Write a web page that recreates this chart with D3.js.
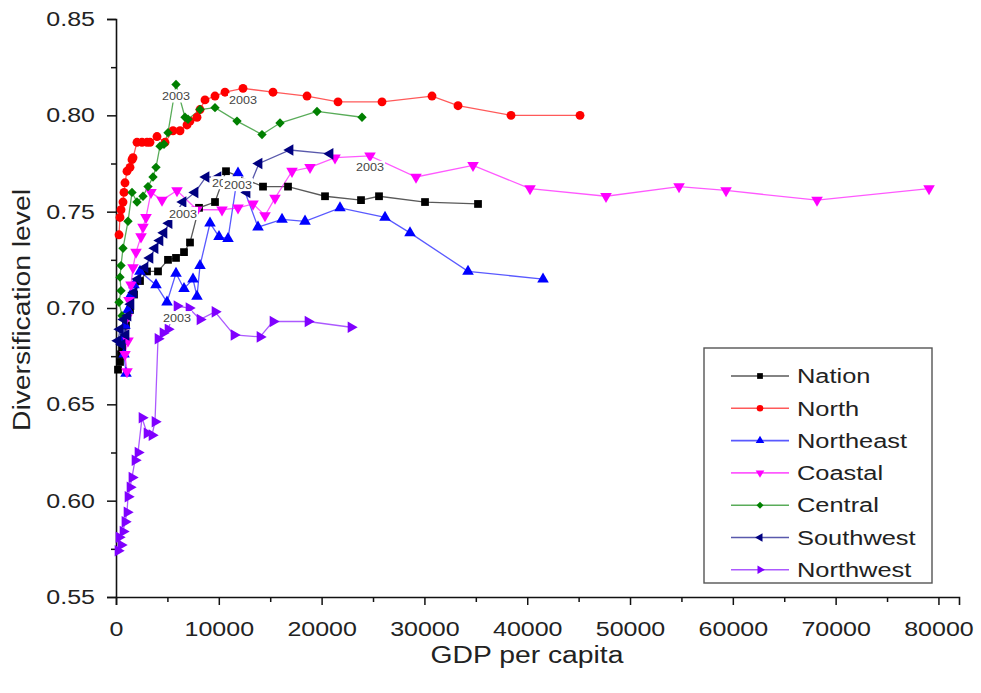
<!DOCTYPE html>
<html>
<head>
<meta charset="utf-8">
<script src="https://cdn.jsdelivr.net/npm/d3@7"></script>
<style>
  html, body { margin: 0; padding: 0; background: #fff; }
  svg { display: block; }
  text { font-family: Arial, "Liberation Sans", sans-serif; }
</style>
</head>
<body>
<svg id="chart" width="981" height="693"></svg>
<script>
// GDP per capita vs. diversification level, one series per region.
const seriesNames = ["Nation", "North", "Northeast", "Coastal", "Central", "Southwest", "Northwest"];
const seriesColors = ["#000000", "#ff0000", "#0000ff", "#ff00ff", "#008000", "#000080", "#8000ff"];

const nation = [[195,0.668],[389,0.672],[486,0.676],[584,0.679],[681,0.683],[973,0.691],[1362,0.699],[1751,0.707],
  [2335,0.714],[3016,0.719],[4086,0.719],[5058,0.725],[5837,0.726],[6615,0.729],[7198,0.734],[8074,0.752],[9630,0.755],
  [10700,0.771],[14300,0.763],[16732,0.763],[20331,0.758],[23833,0.756],[25584,0.758],[30058,0.755],[35214,0.754]];
const north = [[292,0.738],[389,0.747],[486,0.751],[681,0.755],[778,0.760],[875,0.765],[1070,0.771],[1362,0.773],
  [1556,0.777],[1654,0.778],[2043,0.786],[2529,0.786],[3016,0.786],[3307,0.786],[3988,0.789],[4767,0.786],[5545,0.792],
  [6226,0.792],[6907,0.795],[7198,0.797],[7879,0.799],[8171,0.803],[8658,0.808],[9630,0.810],[10603,0.812],[12354,0.814],
  [15272,0.812],[18580,0.810],[21595,0.807],[25875,0.807],[30739,0.810],[33268,0.805],[38424,0.800],[45136,0.800]];
const northeast = [[973,0.666],[778,0.676],[584,0.683],[875,0.691],[1167,0.699],[1459,0.707],[1751,0.712],[2335,0.719],
  [3891,0.712],[4961,0.703],[5837,0.718],[6615,0.710],[7490,0.715],[7879,0.706],[8171,0.722],[9144,0.744],[10019,0.737],
  [10895,0.736],[11868,0.770],[13813,0.742],[16148,0.746],[18385,0.745],[21790,0.752],[26167,0.747],[28599,0.739],
  [34241,0.719],[41537,0.715]];
const coastal = [[1070,0.667],[875,0.676],[1167,0.683],[1070,0.695],[1265,0.704],[1459,0.712],[1654,0.721],[1946,0.729],
  [2432,0.737],[2626,0.742],[2918,0.747],[3405,0.760],[4475,0.756],[5934,0.761],[7879,0.751],[10311,0.751],[11868,0.752],
  [13327,0.754],[14494,0.748],[15467,0.757],[17121,0.771],[18872,0.773],[21304,0.778],[24708,0.779],[29183,0.768],
  [34728,0.774],[40272,0.762],[47665,0.758],[54767,0.763],[59339,0.761],[68191,0.756],[79086,0.762]];
const central = [[584,0.696],[292,0.703],[486,0.709],[389,0.716],[486,0.722],[681,0.731],[1167,0.745],[1556,0.760],
  [2043,0.755],[2626,0.758],[3113,0.763],[3599,0.768],[3891,0.773],[4280,0.784],[4669,0.785],[5058,0.791],[5837,0.816],
  [6712,0.799],[7004,0.798],[8171,0.803],[9630,0.804],[11770,0.797],[14202,0.790],[15953,0.796],[19553,0.802],[23930,0.799]];
const southwest = [[195,0.683],[389,0.689],[584,0.681],[778,0.694],[973,0.686],[1167,0.696],[1459,0.702],[1751,0.708],
  [2140,0.715],[2821,0.721],[3307,0.726],[3794,0.731],[4280,0.735],[4669,0.739],[5156,0.744],[6518,0.755],[7685,0.760],
  [8755,0.768],[9922,0.768],[11284,0.766],[12743,0.760],[13911,0.775],[16926,0.782],[20817,0.780]];
const northwest = [[195,0.574],[486,0.577],[292,0.581],[681,0.584],[875,0.589],[1070,0.594],[1167,0.602],[1362,0.607],
  [1556,0.612],[1848,0.621],[2140,0.625],[2529,0.643],[3016,0.635],[3502,0.634],[3794,0.641],[4086,0.684],[4572,0.687],
  [5058,0.689],[5934,0.701],[7101,0.700],[8171,0.694],[9630,0.698],[11479,0.686],[14008,0.685],[15272,0.693],
  [18677,0.693],[22860,0.690]];

const seriesData = [nation, north, northeast, coastal, central, southwest, northwest];
// Index of the point marked with the year label in each series
const yearLabel = "2003";
const yearIndex = [17, 25, 18, 23, 16, 15, 18];

const xTicks = [0, 10000, 20000, 30000, 40000, 50000, 60000, 70000, 80000];
const xMinorTicks = [5000, 15000, 25000, 35000, 45000, 55000, 65000, 75000];
const yTicks = [0.55, 0.60, 0.65, 0.70, 0.75, 0.80, 0.85];
const yMinorTicks = [0.575, 0.625, 0.675, 0.725, 0.775, 0.825];

// the chart's typeface is set a bit wide: glyphs are stretched along the text direction
const WIDE = 1.25;

const svg = d3.select("#chart");
const x = d3.scaleLinear().domain([0, 82000]).range([116, 959]);
const y = d3.scaleLinear().domain([0.55, 0.85]).range([597, 19]);

// marker shapes: square, circle, up, down, diamond, left, right
const shapes = [
  {type: d3.symbolSquare, size: 60, rot: 0},
  {type: d3.symbolCircle, size: 62, rot: 0},
  {type: d3.symbolTriangle, size: 58, rot: 0},
  {type: d3.symbolTriangle, size: 58, rot: 180},
  {type: d3.symbolSquare, size: 44, rot: 45},
  {type: d3.symbolTriangle, size: 58, rot: -90},
  {type: d3.symbolTriangle, size: 58, rot: 90}
];

// Axes
const axisG = svg.append("g");
const yAxis = axisG.append("g").attr("transform", `translate(${x(0)},0)`)
  .call(d3.axisLeft(y).tickValues(yTicks).tickFormat(d3.format(".2f")).tickSize(9).tickPadding(12));
const yMinor = axisG.append("g").attr("transform", `translate(${x(0)},0)`)
  .call(d3.axisLeft(y).tickValues(yMinorTicks).tickFormat("").tickSize(5));
const xAxis = axisG.append("g").attr("transform", `translate(0,${y(0.55)})`)
  .call(d3.axisBottom(x).tickValues(xTicks).tickFormat(d3.format("d")).tickSize(8).tickPadding(17));
const xMinor = axisG.append("g").attr("transform", `translate(0,${y(0.55)})`)
  .call(d3.axisBottom(x).tickValues(xMinorTicks).tickFormat("").tickSize(5));
[yMinor, xMinor].forEach(g => g.select(".domain").remove());
axisG.selectAll(".domain").attr("stroke", "#111").attr("stroke-width", 1.6);
axisG.selectAll(".tick line").attr("stroke", "#111").attr("stroke-width", 1.5);
yAxis.selectAll(".tick text").attr("font-size", 20).attr("fill", "#222")
  .attr("x", -(9 + 12) / WIDE).attr("transform", `scale(${WIDE},1)`);
xAxis.selectAll(".tick text").attr("font-size", 20).attr("fill", "#222")
  .attr("transform", `scale(${WIDE},1)`);

// Axis titles
svg.append("text")
  .attr("transform", `translate(527,663) scale(1.23,1)`)
  .attr("text-anchor", "middle").attr("font-size", 23).attr("fill", "#222")
  .text("GDP per capita");
svg.append("text")
  .attr("transform", "translate(30,310) rotate(-90) scale(1.23,1)")
  .attr("text-anchor", "middle").attr("font-size", 23).attr("fill", "#222")
  .text("Diversification level");

// Series lines and markers
const line = d3.line().x(d => x(d[0])).y(d => y(d[1]));
const plot = svg.append("g");
seriesData.forEach((data, i) => {
  plot.append("path")
    .datum(data)
    .attr("d", line)
    .attr("fill", "none")
    .attr("stroke", seriesColors[i])
    .attr("stroke-opacity", 0.65)
    .attr("stroke-width", 1.3);
});
seriesData.forEach((data, i) => {
  const s = shapes[i];
  plot.append("g").selectAll("path")
    .data(data)
    .join("path")
    .attr("d", d3.symbol().type(s.type).size(s.size))
    .attr("transform", d => `translate(${x(d[0])},${y(d[1])}) rotate(${s.rot})`)
    .attr("fill", seriesColors[i]);
});

// Year labels with white backing
const labelOrder = [0, 2, 1, 3, 4, 5, 6];
labelOrder.forEach(i => {
  const p = seriesData[i][yearIndex[i]];
  const g = svg.append("g").attr("transform", `translate(${x(p[0])},${y(p[1]) + 12})`);
  g.append("rect").attr("x", -15).attr("y", -7).attr("width", 30).attr("height", 13).attr("fill", "#fff");
  g.append("text").attr("text-anchor", "middle").attr("dy", "0.35em")
    .attr("transform", "scale(1.2,1)")
    .attr("font-size", 10.5).attr("fill", "#444").text(yearLabel);
});

// Legend
const legend = svg.append("g");
legend.append("rect")
  .attr("x", 704).attr("y", 348).attr("width", 228).attr("height", 235)
  .attr("fill", "#fff").attr("stroke", "#555").attr("stroke-width", 1.4);
seriesNames.forEach((name, i) => {
  const ly = 376 + i * 32.3;
  legend.append("line")
    .attr("x1", 731).attr("x2", 789).attr("y1", ly).attr("y2", ly)
    .attr("stroke", seriesColors[i]).attr("stroke-opacity", 0.65).attr("stroke-width", 1.6);
  const s = shapes[i];
  legend.append("path")
    .attr("d", d3.symbol().type(s.type).size(s.size * 0.55)())
    .attr("transform", `translate(760,${ly}) rotate(${s.rot})`)
    .attr("fill", seriesColors[i]);
  legend.append("text")
    .attr("transform", `translate(797,${ly}) scale(1.27,1)`)
    .attr("dy", "0.36em")
    .attr("font-size", 20).attr("fill", "#222").text(name);
});
</script>
</body>
</html>
